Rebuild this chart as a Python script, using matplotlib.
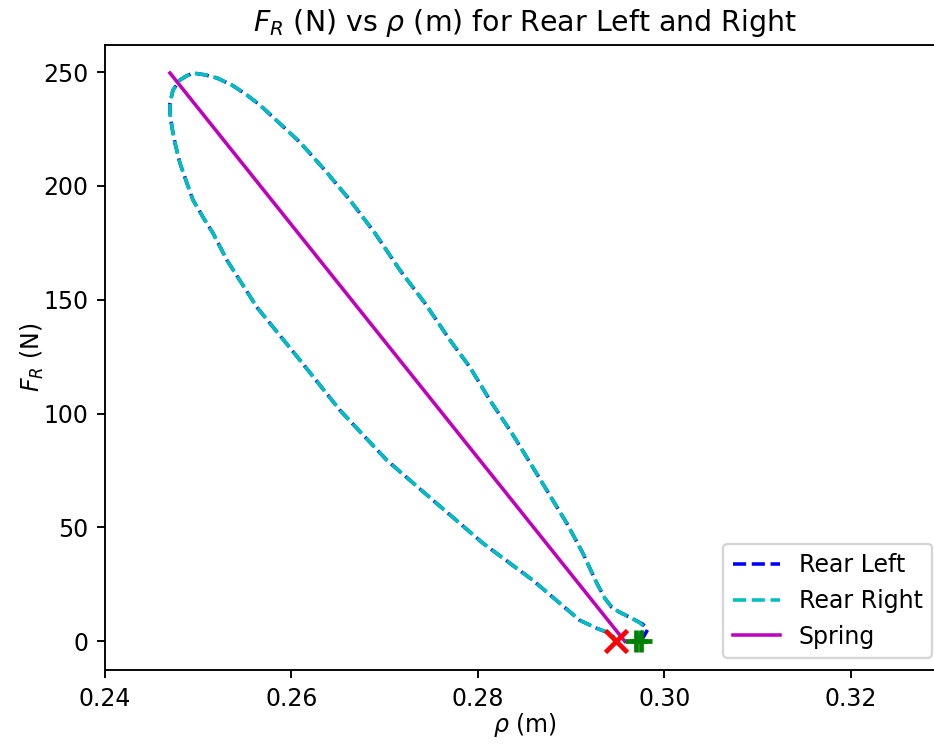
import matplotlib
matplotlib.use('Agg')
import matplotlib.pyplot as plt

# values
# loop order: start marker -> small hook -> upper branch -> top -> left side -> lower branch -> end marker
left_tip_rho = [0.29748, 0.29780, 0.29823, 0.29769]
left_tip_F = [0.0, 2.2, 5.3, 7.5]
right_tip_rho = [0.29694, 0.29740, 0.29791, 0.29740]
right_tip_F = [0.0, 2.6, 6.2, 8.0]

loop_rho = [0.29652, 0.29523, 0.29437, 0.29362, 0.29276, 0.29126, 0.28954, 0.28772,
            0.28590, 0.28365, 0.28129, 0.27914, 0.27700, 0.27432, 0.27164, 0.26895,
            0.26627, 0.26359, 0.26091, 0.25802, 0.25662, 0.25523, 0.25362, 0.25201,
            0.25072, 0.24944, 0.24869,
            0.24804, 0.24729, 0.24697, 0.24697, 0.24718, 0.24751, 0.24804, 0.24879,
            0.24944, 0.25051, 0.25158, 0.25308, 0.25630, 0.26091, 0.26520, 0.27024,
            0.27517, 0.28054, 0.28590, 0.29094, 0.29276, 0.29383, 0.29448, 0.29480]
loop_F = [10.1, 12.7, 14.9, 18.9, 25.5, 38.7, 51.8, 64.1,
          76.4, 91.4, 105.9, 120.4, 132.3, 148.5, 163.0, 179.3,
          193.8, 206.9, 219.2, 230.2, 235.5, 239.9, 244.3, 247.4,
          248.8, 249.6, 248.2,
          246.5, 242.1, 236.4, 232.0, 225.8, 218.8, 210.0, 201.2,
          193.8, 186.3, 179.3, 167.4, 146.7, 123.5, 101.5, 79.5,
          62.0, 43.1, 26.8, 9.2, 5.7, 4.0, 2.2, 0.4]

spring_rho = [0.24697, 0.29576]
spring_F = [249.6, 0.0]

start_rho = [0.29748, 0.29694]
start_F = [0.0, 0.0]
end_rho = [0.29480]
end_F = [0.0]

rho_left = left_tip_rho + loop_rho
F_left = left_tip_F + loop_F
rho_right = right_tip_rho + loop_rho
F_right = right_tip_F + loop_F

W, H, DPI = 934, 744, 170
fig = plt.figure(figsize=(W / DPI, H / DPI), dpi=DPI)
ax = fig.add_axes([105 / W, 74 / H, (944 - 105) / W, (670 - 45) / H])

ax.plot(rho_left, F_left, 'b--', label='Rear Left')
ax.plot(rho_right, F_right, 'c--', label='Rear Right')
ax.plot(spring_rho, spring_F, 'm-', label='Spring')
ax.plot(start_rho, start_F, 'g+', ms=9, mew=2, ls='none')
ax.plot(end_rho, end_F, 'rx', ms=9, mew=2, ls='none')

ax.set_xlim(0.24, 0.33)
ax.set_ylim(-12.6, 261.9)
ax.set_xticks([0.24, 0.26, 0.28, 0.30, 0.32])
ax.set_yticks([0, 50, 100, 150, 200, 250])
ax.set_xlabel(r'$\rho$ (m)', labelpad=0)
ax.set_ylabel(r'$F_R$ (N)', labelpad=-1)
ax.set_title(r'$F_R$ (N) vs $\rho$ (m) for Rear Left and Right')
ax.legend(loc='lower right')

fig.savefig('out.png', dpi=DPI)
